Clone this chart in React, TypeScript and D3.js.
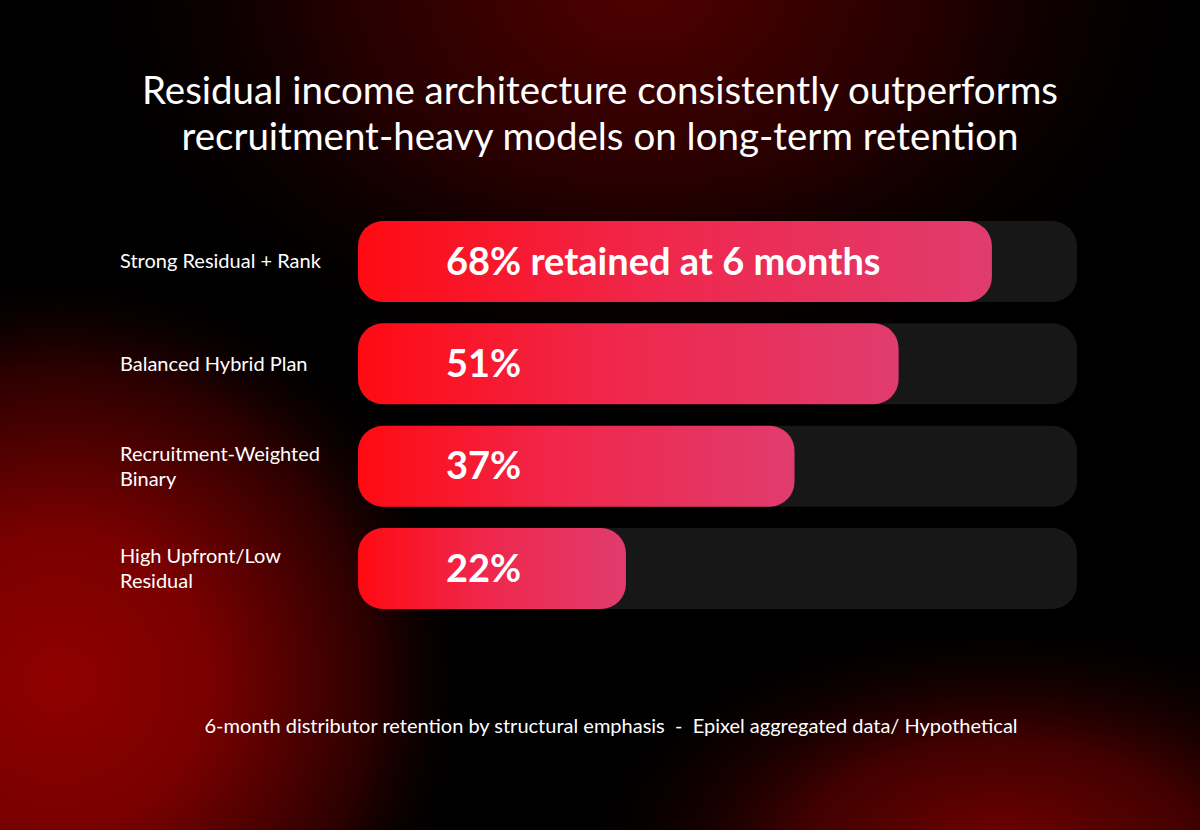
import * as d3 from 'd3';

const W = 1200;
const H = 830;

const titleLines = [
  'Residual income architecture consistently outperforms',
  'recruitment-heavy models on long-term retention',
];

const categories = [
  'Strong Residual + Rank',
  'Balanced Hybrid Plan',
  'Recruitment-Weighted Binary',
  'High Upfront/Low Residual',
];
// wrapped label lines as they appear in the picture
const categoryLines = [
  ['Strong Residual + Rank'],
  ['Balanced Hybrid Plan'],
  ['Recruitment-Weighted', 'Binary'],
  ['High Upfront/Low', 'Residual'],
];
const retained = [68, 51, 37, 22];
const barTexts = ['68% retained at 6 months', '51%', '37%', '22%'];

const footnote =
  '6-month distributor retention by structural emphasis  -  Epixel aggregated data/ Hypothetical';

const font = "Lato, 'Open Sans', sans-serif";

export default function App() {
  const trackX = 358;
  const trackW = 719;

  const y = d3.scaleBand<string>()
    .domain(categories)
    .range([221, 609])
    .paddingInner(0.21);

  // fill lengths in the source grow on a log-like scale
  const x = d3.scaleLog()
    .domain([9.63, 88.4])
    .range([0, trackW]);

  const bh = y.bandwidth();

  return (
    <svg width={W} height={H} style={{ display: 'block', position: 'absolute', left: 0, top: 0 }}>
      <defs>
        <radialGradient id="glowTop" cx="640" cy="-10" r="600" gradientUnits="userSpaceOnUse"
          gradientTransform="translate(640,-10) scale(1,0.7) translate(-640,10)">
          <stop offset="0%" stopColor="#500000" />
          <stop offset="50%" stopColor="#240000" />
          <stop offset="100%" stopColor="#000000" stopOpacity="0" />
        </radialGradient>
        <radialGradient id="glowLeft" cx="60" cy="680" r="420" gradientUnits="userSpaceOnUse">
          <stop offset="0%" stopColor="#900000" />
          <stop offset="35%" stopColor="#7a0000" />
          <stop offset="75%" stopColor="#2a0000" />
          <stop offset="100%" stopColor="#000000" stopOpacity="0" />
        </radialGradient>
        <radialGradient id="glowRight" cx="1000" cy="850" r="440" gradientUnits="userSpaceOnUse"
          gradientTransform="translate(1000,850) scale(1,0.55) translate(-1000,-850)">
          <stop offset="0%" stopColor="#700000" />
          <stop offset="45%" stopColor="#420000" />
          <stop offset="100%" stopColor="#000000" stopOpacity="0" />
        </radialGradient>
        <linearGradient id="barFill" x1="0%" y1="0%" x2="100%" y2="0%">
          <stop offset="0%" stopColor="#ff0a12" />
          <stop offset="45%" stopColor="#f0264a" />
          <stop offset="100%" stopColor="#e03c6e" />
        </linearGradient>
      </defs>

      <rect x={0} y={0} width={W} height={H} fill="#000" />
      <rect x={0} y={0} width={W} height={H} fill="url(#glowTop)" />
      <rect x={0} y={0} width={W} height={H} fill="url(#glowLeft)" />
      <rect x={0} y={0} width={W} height={H} fill="url(#glowRight)" />

      {titleLines.map((t, i) => (
        <text key={t} x={600} y={104 + i * 46} textAnchor="middle" fill="#fff"
          fontFamily={font} fontSize={38.5}>{t}</text>
      ))}

      {categories.map((c, i) => {
        const top = y(c) as number;
        const cy = top + bh / 2;
        const lines = categoryLines[i];
        return (
          <g key={c}>
            <rect x={trackX} y={top} width={trackW} height={bh} rx={25} fill="#171717" />
            <rect x={trackX} y={top} width={x(retained[i])} height={bh} rx={25} fill="url(#barFill)" />
            <text x={trackX + 88} y={cy} dy="0.35em" fill="#fff" fontFamily={font}
              fontWeight={700} fontSize={38}>{barTexts[i]}</text>
            {lines.map((l, j) => (
              <text key={l} x={120} y={cy + (j - (lines.length - 1) / 2) * 25} dy="0.35em"
                fill="#fff" fontFamily={font} fontSize={20}>{l}</text>
            ))}
          </g>
        );
      })}

      <text x={611} y={733} textAnchor="middle" fill="#fff" fontFamily={font} fontSize={20}
        style={{ whiteSpace: 'pre' }}>
        {footnote}
      </text>
    </svg>
  );
}
